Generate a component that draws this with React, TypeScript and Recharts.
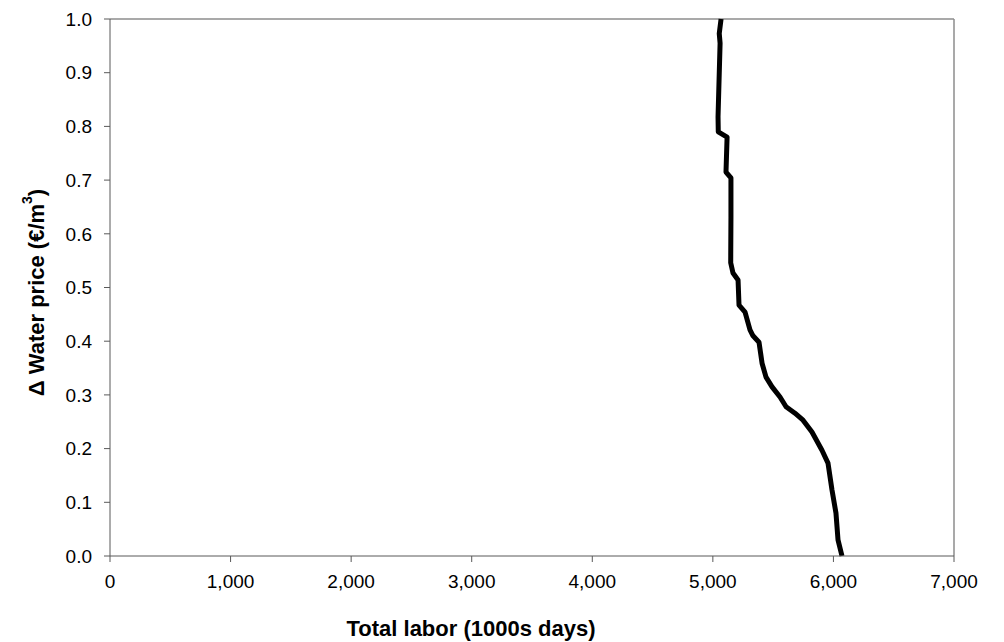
import React from "react";
import { LineChart, Line, XAxis, YAxis, ReferenceLine } from "recharts";

const laborValues = [5068, 5053, 5060, 5043, 5045, 5118, 5109, 5150, 5150, 5148, 5167, 5209, 5217, 5267, 5308, 5333, 5383, 5408, 5441, 5491, 5557, 5607, 5681, 5748, 5822, 5905, 5955, 5988, 6021, 6038, 6071];
const priceValues = [1.0, 0.973, 0.955, 0.818, 0.79, 0.78, 0.715, 0.704, 0.631, 0.546, 0.527, 0.514, 0.467, 0.454, 0.421, 0.41, 0.398, 0.359, 0.333, 0.315, 0.296, 0.278, 0.266, 0.253, 0.231, 0.197, 0.173, 0.123, 0.08, 0.03, 0.0];
const xTicks = [0, 1000, 2000, 3000, 4000, 5000, 6000, 7000];
const yTicks = [0, 0.1, 0.2, 0.3, 0.4, 0.5, 0.6, 0.7, 0.8, 0.9, 1.0];

const data = laborValues.map((x, i) => ({ x, y: priceValues[i] }));

const FONT = "'Liberation Sans', Arial, sans-serif";

const YLabel = (props: any) => {
  const vb = props.viewBox || { x: 0, y: 19, width: 110, height: 537 };
  const cx = 36;
  const cy = vb.y + vb.height / 2 + 5;
  return (
    <text
      x={cx}
      y={cy}
      transform={`rotate(-90, ${cx}, ${cy})`}
      textAnchor="middle"
      dominantBaseline="central"
      fontFamily={FONT}
      fontWeight="bold"
      fontSize={22}
      fill="#000"
    >
      <tspan>Δ Water price (€/m</tspan>
      <tspan fontSize={14} dy={-9}>3</tspan>
      <tspan dy={9}>)</tspan>
    </text>
  );
};

const XLabel = (props: any) => {
  const vb = props.viewBox || { x: 110, y: 556, width: 844, height: 86 };
  const cx = vb.x + vb.width / 2 - 61;
  return (
    <text
      x={cx}
      y={628}
      textAnchor="middle"
      dominantBaseline="central"
      fontFamily={FONT}
      fontWeight="bold"
      fontSize={22}
      fill="#000"
    >
      Total labor (1000s days)
    </text>
  );
};

export default function App() {
  return (
    <div style={{ position: "absolute", left: 0, top: 0, width: 1004, height: 642, background: "#fff" }}>
      <LineChart width={1004} height={642} data={data} margin={{ top: 19, right: 50, bottom: 0, left: 0 }}>
        <XAxis
          type="number"
          dataKey="x"
          domain={[0, 7000]}
          ticks={xTicks}
          tickFormatter={(v: number) => v.toLocaleString("en-US")}
          height={86}
          stroke="#595959"
          tickSize={6}
          tickMargin={13}
          tick={{ fill: "#000", fontSize: 19, fontFamily: FONT }}
          label={{ content: (p: any) => <XLabel {...p} /> }}
        />
        <YAxis
          type="number"
          domain={[0, 1]}
          ticks={yTicks}
          tickFormatter={(v: number) => v.toFixed(1)}
          width={110}
          stroke="#595959"
          tickSize={6}
          tickMargin={12}
          tick={{ fill: "#000", fontSize: 19, fontFamily: FONT }}
          label={{ content: (p: any) => <YLabel {...p} /> }}
        />
        <ReferenceLine y={1} stroke="#8c8c8c" strokeWidth={1.5} ifOverflow="extendDomain" />
        <ReferenceLine x={7000} stroke="#8c8c8c" strokeWidth={1.5} ifOverflow="extendDomain" />
        <Line
          type="linear"
          dataKey="y"
          stroke="#000"
          strokeWidth={5}
          dot={false}
          strokeLinejoin="round"
          strokeLinecap="butt"
          isAnimationActive={false}
        />
      </LineChart>
    </div>
  );
}
